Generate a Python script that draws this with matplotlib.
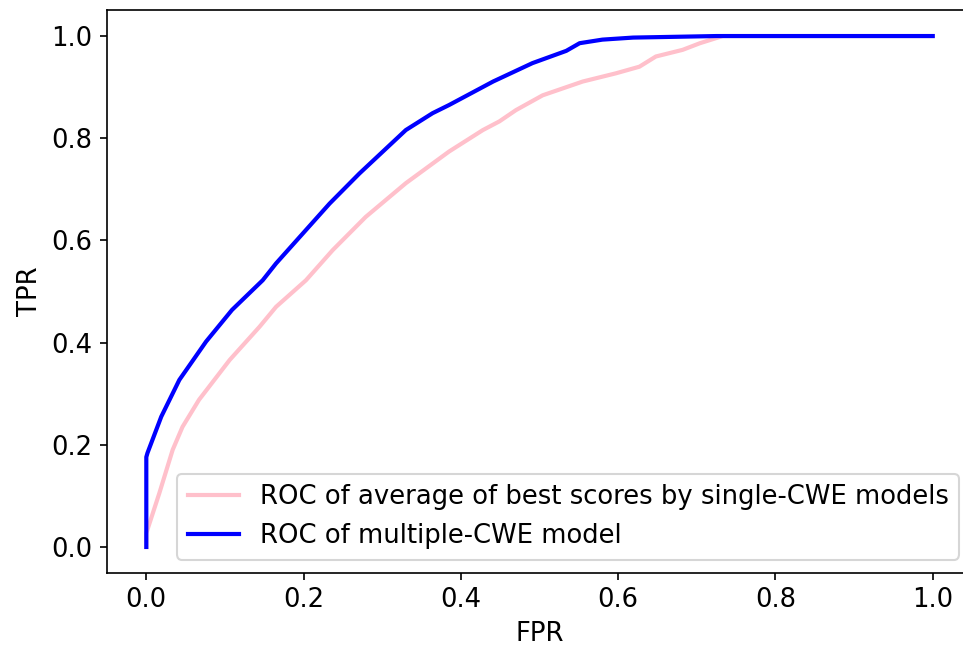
import matplotlib
matplotlib.use("Agg")
import matplotlib.pyplot as plt

# ROC of average of best scores by single-CWE models (pink)
fpr_single = [0.0, 0.0, 0.0165, 0.0335, 0.046, 0.067, 0.106, 0.144, 0.165, 0.203, 0.237,
              0.279, 0.330, 0.385, 0.428, 0.449, 0.470, 0.504, 0.555, 0.597, 0.627,
              0.648, 0.682, 0.704, 0.733, 1.0]
tpr_single = [0.0, 0.027, 0.105, 0.19, 0.235, 0.288, 0.366, 0.431, 0.470, 0.522, 0.581,
              0.646, 0.712, 0.774, 0.816, 0.833, 0.855, 0.884, 0.911, 0.927, 0.940,
              0.960, 0.973, 0.986, 1.0, 1.0]

# ROC of multiple-CWE model (blue)
fpr_multi = [0.0, 0.0, 0.0015, 0.019, 0.042, 0.076, 0.109, 0.148, 0.165, 0.233, 0.271,
             0.330, 0.364, 0.385, 0.441, 0.491, 0.534, 0.551, 0.580, 0.619, 0.725, 1.0]
tpr_multi = [0.0, 0.176, 0.184, 0.255, 0.327, 0.402, 0.464, 0.522, 0.555, 0.672, 0.731,
             0.816, 0.849, 0.865, 0.911, 0.947, 0.971, 0.986, 0.993, 0.997, 1.0, 1.0]

plt.rcParams["font.size"] = 12.4
fig = plt.figure(figsize=(6.42, 4.32), dpi=150)
ax = fig.add_axes([0.1111, 0.1165, 0.8983, 0.8673])
ax.plot(fpr_single, tpr_single, color="pink", lw=2,
        label="ROC of average of best scores by single-CWE models")
ax.plot(fpr_multi, tpr_multi, color="blue", lw=2, label="ROC of multiple-CWE model")
ax.spines["right"].set_visible(False)
ax.set_xlabel("FPR")
ax.set_ylabel("TPR")
ax.legend(loc="lower right")
fig.savefig("out.png", dpi=150)
